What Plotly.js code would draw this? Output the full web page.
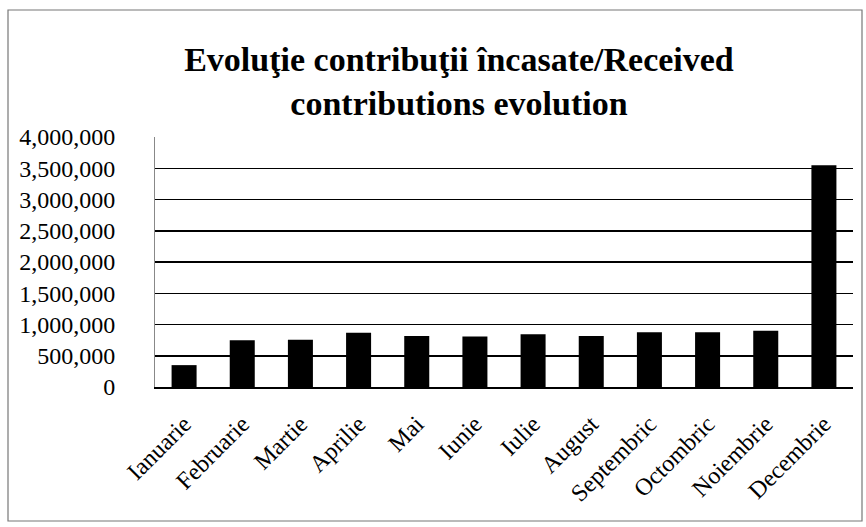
<!DOCTYPE html>
<html>
<head>
<meta charset="utf-8">
<script src="https://cdn.plot.ly/plotly-3.0.1.min.js"></script>
<style>html,body{margin:0;padding:0;background:#fff;}#chart{width:866px;height:527px;}</style>
</head>
<body>
<div id="chart"></div>
<script>
const months = ["Ianuarie","Februarie","Martie","Aprilie","Mai","Iunie","Iulie","August","Septembric","Octombric","Noiembrie","Decembrie"];
const contributions = [350000, 750000, 755000, 870000, 815000, 810000, 845000, 815000, 875000, 875000, 900000, 3550000];
const yTickValues = [0, 500000, 1000000, 1500000, 2000000, 2500000, 3000000, 3500000, 4000000];
const yTickLabels = ["0","500,000","1,000,000","1,500,000","2,000,000","2,500,000","3,000,000","3,500,000","4,000,000"];
const chartTitle = "Evoluţie contribuţii încasate/Received<br>contributions evolution";

const serif = "Liberation Serif, Times New Roman, serif";
const trace = {
  type: "bar",
  x: months,
  y: contributions,
  marker: {color: "#000000", line: {width: 0}},
  hoverinfo: "x+y"
};
const layout = {
  width: 866, height: 527,
  margin: {l: 155, r: 13, t: 137, b: 140, pad: 0},
  paper_bgcolor: "#ffffff", plot_bgcolor: "#ffffff",
  showlegend: false,
  bargap: 0.57,
  title: {
    text: chartTitle,
    font: {family: serif, size: 34, color: "#000", weight: "bold"},
    x: 0.53, xanchor: "center",
    y: 0.865, yanchor: "middle"
  },
  font: {family: serif, color: "#000"},
  xaxis: {
    tickangle: -45,
    tickfont: {family: serif, size: 24, color: "#000"},
    ticklabelstandoff: 12,
    showline: true, linecolor: "#000", linewidth: 1.5,
    ticks: "", showgrid: false, zeroline: false,
    automargin: false
  },
  yaxis: {
    range: [0, 4000000],
    tickvals: yTickValues,
    ticktext: yTickLabels,
    tickfont: {family: serif, size: 24, color: "#000"},
    ticklabelstandoff: 34,
    showgrid: true, gridcolor: "#000", gridwidth: 1.5,
    showline: true, linecolor: "#888", linewidth: 1,
    zeroline: false, ticks: "", ticklen: 0,
    automargin: false
  },
  shapes: [
    {type: "rect", xref: "paper", yref: "paper",
     x0: -0.2106, x1: 1.0129, y0: -0.536, y1: 1.508,
     line: {color: "#777", width: 1.2}, fillcolor: "rgba(0,0,0,0)", layer: "below"}
  ]
};
Plotly.newPlot("chart", [trace], layout, {displayModeBar: false, staticPlot: true});
</script>
</body>
</html>
